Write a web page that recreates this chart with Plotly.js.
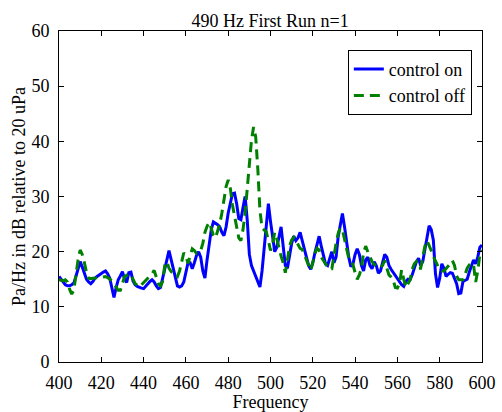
<!DOCTYPE html>
<html>
<head>
<meta charset="utf-8">
<script src="https://cdn.plot.ly/plotly-3.0.1.min.js"></script>
<style>html,body{margin:0;padding:0;background:#fff;}#chart{width:502px;height:412px;}</style>
</head>
<body>
<div id="chart"></div>
<script>
const freqStart = 400;
const controlOn = [
15.5,15.0,14.3,14.0,13.8,13.8,14.0,14.3,15.5,17.0,
18.2,17.2,16.0,15.0,14.5,14.2,14.6,15.2,15.5,15.8,
16.0,16.3,16.5,16.0,15.2,13.5,11.7,13.5,14.9,15.6,
16.4,15.0,14.4,16.2,16.3,14.7,14.0,13.7,13.5,13.4,
13.3,13.8,14.3,14.6,14.9,14.5,13.8,13.3,13.5,15.0,
16.8,18.5,20.2,18.5,16.8,15.0,13.8,13.6,13.8,14.5,
16.0,18.0,18.0,16.9,18.0,19.3,20.0,19.0,16.5,15.2,
18.5,21.5,24.0,25.4,25.2,24.9,24.5,23.5,22.9,24.5,
27.0,29.0,30.5,30.6,28.7,26.0,25.8,28.0,30.0,25.7,
19.5,17.5,16.5,15.5,14.4,13.6,16.5,20.5,25.0,28.7,
25.5,22.5,20.0,20.8,23.0,24.5,21.0,17.5,17.0,19.2,
21.5,22.8,22.0,22.5,23.5,22.0,20.5,19.2,17.5,16.8,
18.0,19.8,21.5,22.8,21.0,19.4,17.8,17.5,19.0,20.0,
18.0,19.0,22.7,25.0,26.9,24.5,21.8,19.0,17.3,17.8,
19.5,20.5,19.5,17.5,16.5,18.5,19.0,17.5,16.9,18.2,
17.5,16.1,16.5,17.8,19.5,19.0,17.5,16.8,16.2,15.6,
15.2,14.4,14.0,13.7,14.6,15.0,14.9,15.8,17.0,18.2,
18.8,17.5,18.2,20.6,22.8,24.7,24.0,22.1,16.0,13.5,
15.2,17.8,17.0,15.5,15.9,16.2,16.1,15.2,14.2,12.4,
12.5,14.6,14.8,15.0,16.3,17.6,18.5,17.8,19.0,20.8,
21.2
];
const controlOff = [
14.9,14.8,14.7,14.9,14.5,13.2,12.3,13.0,15.8,18.5,
20.3,19.5,18.0,16.2,15.2,15.1,15.2,15.2,15.2,15.2,
15.3,15.4,15.5,15.3,15.0,14.7,14.2,13.6,13.0,13.0,
14.5,15.5,15.7,16.0,15.8,15.0,14.2,13.9,13.6,14.0,
14.4,14.8,15.1,15.5,16.0,16.6,15.5,14.2,13.8,14.6,
17.5,18.2,17.0,16.4,16.1,15.8,15.5,16.5,18.2,19.8,
19.2,17.9,19.2,20.5,20.2,19.7,20.0,20.2,21.5,23.5,
24.6,25.3,24.2,23.0,22.5,23.7,25.0,27.0,29.5,31.8,
33.0,31.5,28.5,26.5,24.5,22.5,22.0,24.0,27.0,31.0,
36.0,40.2,42.6,40.8,35.0,27.5,24.3,24.0,23.6,22.0,
20.2,21.5,23.5,22.3,20.5,19.2,18.0,16.2,18.5,21.0,
22.1,22.6,22.0,21.2,20.6,20.4,19.5,18.5,17.6,16.6,
18.0,19.7,20.6,20.3,19.0,18.3,17.8,17.2,16.8,16.9,
19.5,21.5,23.3,24.3,24.0,22.5,20.5,18.8,18.2,17.6,
16.2,15.0,15.8,17.0,19.8,21.0,20.0,19.0,18.2,17.7,
17.4,17.3,17.1,17.5,18.4,17.0,15.8,15.4,14.9,13.5,
13.4,14.2,16.7,15.0,13.5,14.2,14.9,16.8,17.8,18.2,
17.0,17.0,19.0,21.0,22.0,21.2,20.2,19.1,18.2,17.5,
16.8,16.5,16.5,16.9,17.3,17.8,18.4,17.5,15.6,14.9,
14.9,14.9,15.9,17.0,17.6,18.0,17.6,14.5,16.5,19.5,
20.3
];
const frequency = controlOn.map((_, i) => freqStart + i);
const xTicks = [400,420,440,460,480,500,520,540,560,580,600];
const yTicks = [0,10,20,30,40,50,60];

const FONT = '"Times New Roman", "Liberation Serif", serif';
const traces = [
  {x: frequency, y: controlOn, name: 'control on', type: 'scatter', mode: 'lines',
   line: {color: '#0000ff', width: 3}},
  {x: frequency, y: controlOff, name: 'control off', type: 'scatter', mode: 'lines',
   line: {color: '#008000', width: 3, dash: '10px,6px'}}
];
const axisCommon = {
  showgrid: false, zeroline: false, showline: true, linecolor: '#000', linewidth: 1,
  mirror: 'ticks', ticks: 'inside', ticklen: 5, tickcolor: '#000', tickwidth: 1,
  tickfont: {family: FONT, size: 18, color: '#000'}
};
const layout = {
  width: 502, height: 412,
  margin: {l: 59, r: 20, t: 31, b: 50},
  paper_bgcolor: '#fff', plot_bgcolor: '#fff',
  font: {family: FONT, color: '#000', size: 18},
  title: {text: '490 Hz First Run n=1', font: {family: FONT, size: 18, color: '#000'},
          x: 0.538, xref: 'container', xanchor: 'center', y: 0.949, yref: 'container', yanchor: 'middle'},
  xaxis: Object.assign({}, axisCommon, {range: [400, 600], tickvals: xTicks, ticklabelstandoff: 4,
          title: {text: 'Frequency', font: {family: FONT, size: 18, color: '#000'}, standoff: 0}}),
  yaxis: Object.assign({}, axisCommon, {range: [0, 60], tickvals: yTicks, ticklabelstandoff: 5,
          title: {text: 'Pa/Hz in dB relative to 20 uPa', font: {family: FONT, size: 18, color: '#000'}, standoff: 1}}),
  showlegend: true,
  legend: {x: 0.976, xanchor: 'right', y: 0.943, yanchor: 'top', bgcolor: '#fff',
           bordercolor: '#000', borderwidth: 1, font: {family: FONT, size: 18, color: '#000'},
           tracegroupgap: 0, itemwidth: 30}
};
Plotly.newPlot('chart', traces, layout, {displayModeBar: false, staticPlot: true});
</script>
</body>
</html>
